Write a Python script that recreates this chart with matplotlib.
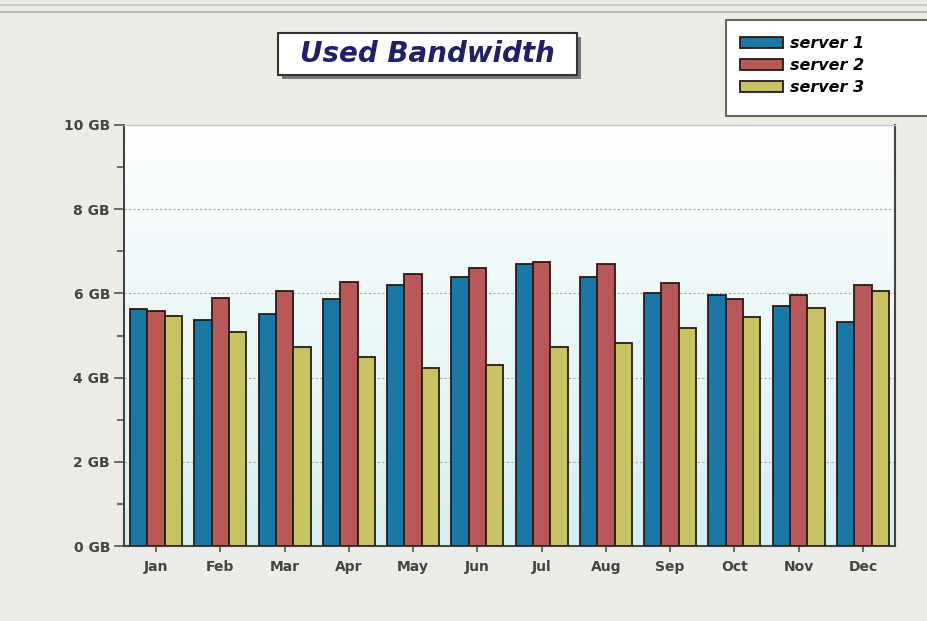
"""Used bandwidth per month for three servers, grouped bar chart."""

import matplotlib

matplotlib.use("Agg")
import matplotlib.pyplot as plt
import numpy as np
from matplotlib.lines import Line2D
from matplotlib.patches import Rectangle
from matplotlib.ticker import MultipleLocator

# %% Data (GB)
months = ["Jan", "Feb", "Mar", "Apr", "May", "Jun",
          "Jul", "Aug", "Sep", "Oct", "Nov", "Dec"]
server_1 = [5.63, 5.37, 5.51, 5.87, 6.20, 6.40, 6.71, 6.40, 6.02, 5.96, 5.69, 5.33]
server_2 = [5.58, 5.89, 6.06, 6.27, 6.46, 6.60, 6.74, 6.70, 6.24, 5.87, 5.96, 6.20]
server_3 = [5.46, 5.08, 4.73, 4.49, 4.23, 4.30, 4.72, 4.81, 5.19, 5.45, 5.65, 6.06]
series_names = ["server 1", "server 2", "server 3"]
y_ticks = [0, 2, 4, 6, 8, 10]
y_tick_labels = [f"{v} GB" for v in y_ticks]

colors = ["#1878a6", "#b85858", "#c6c462"]
bg_color = "#ecebe6"

W, H = 927, 621
fig = plt.figure(figsize=(W / 100, H / 100), dpi=100, facecolor=bg_color)


def fx(px):
    return px / W


def fy(py):
    return 1 - py / H


ax = fig.add_axes([fx(124), fy(546), fx(895) - fx(124), fy(125) - fy(546)])

# gradient background of the plot area
grad = np.linspace(0, 1, 256).reshape(-1, 1)
top = np.array([1.0, 1.0, 1.0])
bottom = np.array([0xd6, 0xef, 0xf2]) / 255
img = top + (bottom - top) * grad[..., None]
ax.imshow(img, extent=[0, 1, 0, 1], transform=ax.transAxes,
          aspect="auto", zorder=0)

# %% Bars
x = np.arange(len(months))
width = 0.27
for i, (vals, name) in enumerate(zip([server_1, server_2, server_3], series_names)):
    ax.bar(x + (i - 1) * width, vals, width, color=colors[i],
           edgecolor="#2a1a12", linewidth=1.3, label=name, zorder=3)

ax.set_xlim(-0.5, len(months) - 0.5)
ax.set_ylim(0, 10)
ax.set_xticks(x)
ax.set_xticklabels(months)
ax.set_yticks(y_ticks)
ax.set_yticklabels(y_tick_labels)
ax.yaxis.set_minor_locator(MultipleLocator(1))

ax.tick_params(axis="y", which="major", length=7, width=1.2, color="#555555",
               labelsize=10, labelcolor="#444444", pad=3)
ax.tick_params(axis="y", which="minor", length=5, width=1.2, color="#555555")
ax.tick_params(axis="x", length=4, width=1.2, color="#555555",
               labelsize=10, labelcolor="#444444", pad=6)
for lab in ax.get_xticklabels() + ax.get_yticklabels():
    lab.set_fontweight("bold")

ax.grid(axis="y", which="major", linestyle=(0, (2, 2)), color="#aaaaaa",
        linewidth=0.8, zorder=1)
ax.set_axisbelow(True)

for side in ["left", "bottom", "right"]:
    ax.spines[side].set_color("#444444")
    ax.spines[side].set_linewidth(1.5)
ax.spines["top"].set_color("#c8c8c8")
ax.spines["top"].set_linewidth(1.0)

# %% Decorations: frame lines at the top of the figure
for py, c in [(5, "#c9c9c3"), (12, "#b9b9b3")]:
    fig.add_artist(Line2D([0, 1], [fy(py), fy(py)], color=c, linewidth=1.5,
                          transform=fig.transFigure))

# title box with drop shadow
fig.add_artist(Rectangle((fx(282), fy(79)), fx(577) - fx(278), fy(33) - fy(75),
                         transform=fig.transFigure, facecolor="#777777",
                         edgecolor="none"))
fig.add_artist(Rectangle((fx(278), fy(75)), fx(577) - fx(278), fy(33) - fy(75),
                         transform=fig.transFigure, facecolor="white",
                         edgecolor="#333333", linewidth=1.5))
fig.text(fx(427), fy(54), "Used Bandwidth", ha="center", va="center",
         fontsize=20, fontweight="bold", fontstyle="italic", color="#1f1f6a")

# legend: frame drawn by hand (it runs off the right edge), entries inside
fig.add_artist(Rectangle((fx(726), fy(116)), fx(940) - fx(726), fy(20) - fy(116),
                         transform=fig.transFigure, facecolor="white",
                         edgecolor="#666666", linewidth=1.5))
leg = fig.legend(loc="upper left", bbox_to_anchor=(fx(740), fy(36)),
                 frameon=False,
                 prop={"size": 11.5, "weight": "bold", "style": "italic"},
                 handlelength=2.7, handleheight=0.7, handletextpad=0.45,
                 labelspacing=0.45, borderpad=0, borderaxespad=0)

fig.savefig("out.png", dpi=100, facecolor=bg_color)
